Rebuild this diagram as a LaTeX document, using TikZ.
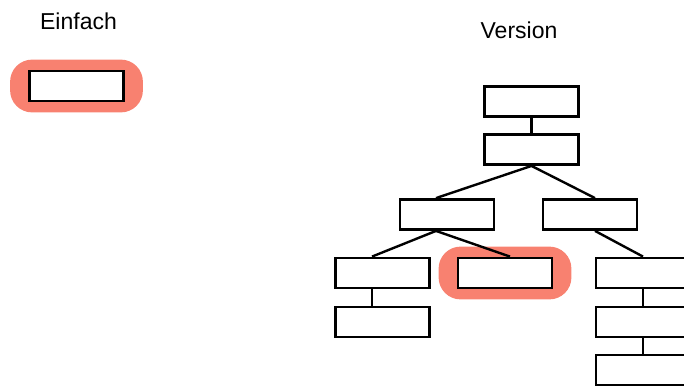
\documentclass[tikz,border=0pt]{standalone}
\usepackage{fontspec}
\setmainfont{Liberation Sans}
\usepackage{tikz}
\usetikzlibrary{backgrounds}
\usetikzlibrary{positioning}
\definecolor{hlred}{HTML}{F88170}

\begin{document}
\begin{tikzpicture}[x=1pt, y=-1pt, line join=miter,
box/.style={draw, rectangle, line width=2.8pt, fill=white, minimum width=94pt,
minimum height=30pt, inner sep=0pt},
lbl/.style={font=\fontsize{23}{27}\selectfont, inner sep=0pt},
edge/.style={line width=2.4pt}]
\useasboundingbox (0,0) rectangle (684,386);
\clip (0,0) rectangle (684,386);
\node[lbl] (einfach) at (78.5,21) {Einfach};
\node[lbl] (version) at (519,30) {Version};
\node[box] (e) at (76.5,86) {};
\node[box] (0) at (531.5,101.5) {};
\node[box] (1) at (531.5,149.5) {};
\node[box] (2) at (447,214.5) {};
\node[box] (3) at (590,214.5) {};
\node[box] (4) at (382.5,273) {};
\node[box] (5) at (505,273) {};
\node[box] (6) at (643,273) {};
\node[box] (7) at (382.5,322) {};
\node[box] (8) at (643,322) {};
\node[box] (9) at (643,370) {};
% highlight
\begin{scope}[on background layer]
\foreach \i in {e, 5}{
\fill[hlred, rounded corners=22pt] ([xshift=-18pt, yshift=10pt]\i.north west) rectangle ([xshift=18pt, yshift=-10pt]\i.south east);}
\end{scope}
\draw[edge] (0.south) -- (1.north);
\draw[edge] (1.south) -- ([xshift=-11pt]2.north);
\draw[edge] (1.south) -- ([xshift=5pt]3.north);
\draw[edge] ([xshift=-11pt]2.south) -- ([xshift=-10.5pt]4.north);
\draw[edge] ([xshift=-11pt]2.south) -- ([xshift=5pt]5.north);
\draw[edge] ([xshift=5pt]3.south) -- (6.north);
\draw[edge] ([xshift=-10.5pt]4.south) -- ([xshift=-10.5pt]7.north);
\foreach \i/\j in {6/8, 8/9}{
\draw[edge] (\i.south) -- (\j.north);}
\end{tikzpicture}
\end{document}
